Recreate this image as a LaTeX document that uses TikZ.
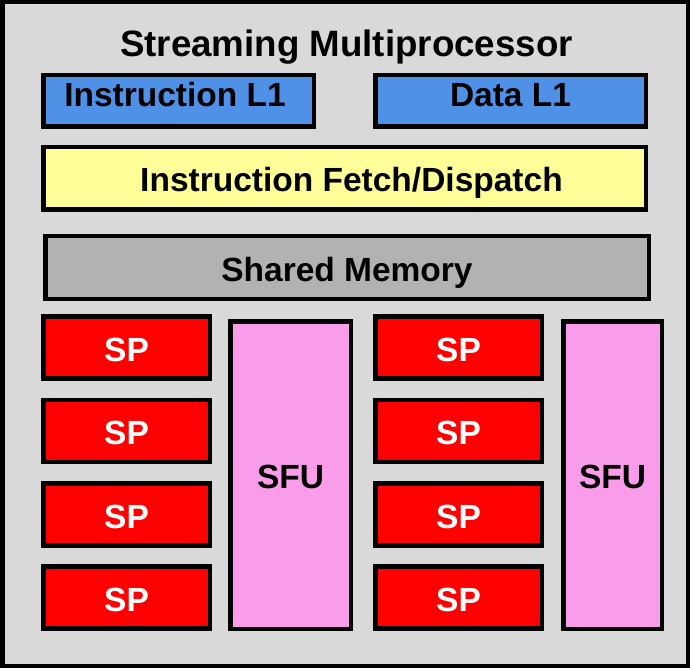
\documentclass[tikz,border=0pt]{standalone}
\usepackage{fontspec}
\setmainfont{Liberation Sans}
\definecolor{bgray}{HTML}{D9D9D9}
\definecolor{lblue}{HTML}{4F91E6}
\definecolor{lyellow}{HTML}{FFFF99}
\definecolor{mgray}{HTML}{B2B2B2}
\definecolor{spred}{HTML}{FF0000}
\definecolor{sfupink}{HTML}{F99CE9}
\begin{document}
\begin{tikzpicture}[x=1pt,y=-1pt,
  blockbox/.style={draw=black,line width=4.5pt,inner sep=0pt,
    font=\fontsize{33.5}{36}\selectfont\bfseries,text height=27pt,text depth=0pt},
  l1box/.style={blockbox,fill=lblue,minimum width=270.5pt,minimum height=51.5pt,text depth=16pt},
  widebox/.style={blockbox,minimum height=62.5pt},
  spbox/.style={blockbox,fill=spred,text=white,minimum width=166.5pt,minimum height=62pt},
  sfubox/.style={blockbox,fill=sfupink,minimum height=307.5pt}]
\useasboundingbox (0,0) rectangle (690,668);
\draw[line width=4.5pt,fill=bgray] (2.25,2.25) rectangle (687.75,665.75);
\node[anchor=base,font=\fontsize{36.7}{40}\selectfont\bfseries,inner sep=0pt] (title) at (346.5,57) {Streaming Multiprocessor};
\node[l1box] (il1) at (178.5,101) {\hspace*{-7pt}Instruction L1};
\node[l1box] (dl1) at (510.5,101) {Data L1};
\node[widebox,fill=lyellow,minimum width=602.5pt] (fetch) at (344.5,178.5) {\hspace*{14pt}Instruction Fetch/Dispatch};
\node[widebox,fill=mgray,minimum width=603.5pt] (shared) at (347,267.5) {Shared Memory};
\node[spbox] (spl1) at (126.5,347.5) {SP};
\node[spbox] (spl2) at (126.5,431) {SP};
\node[spbox] (spl3) at (126.5,514.5) {SP};
\node[spbox] (spl4) at (126.5,597.5) {SP};
\node[spbox] (spr1) at (458.5,347.5) {SP};
\node[spbox] (spr2) at (458.5,431) {SP};
\node[spbox] (spr3) at (458.5,514.5) {SP};
\node[spbox] (spr4) at (458.5,597.5) {SP};
\node[sfubox,minimum width=120.5pt] (sful) at (290.5,475) {SFU};
\node[sfubox,minimum width=98.5pt] (sfur) at (612.5,475) {SFU};
\end{tikzpicture}
\end{document}
